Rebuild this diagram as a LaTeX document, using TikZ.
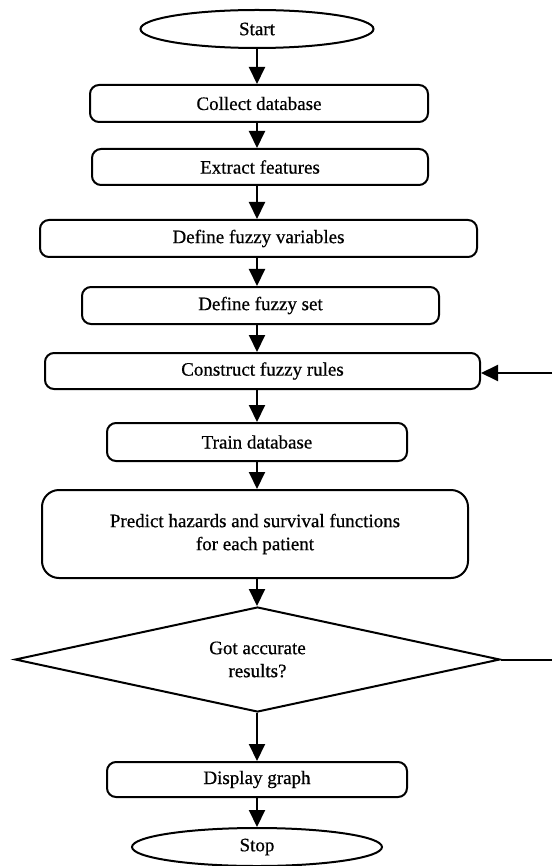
\documentclass[tikz,border=0pt]{standalone}
\usepackage{fontspec}
\setmainfont{Liberation Serif}
\newfontfamily\heavyserif[FakeBold=0.6]{Liberation Serif}
\usepackage{tikz}
\usetikzlibrary{shapes.geometric, arrows.meta, positioning}

\begin{document}
\begin{tikzpicture}[
  x=1pt, y=-1pt,
  every node/.style={font=\heavyserif\fontsize{19}{23}\selectfont},
  term/.style={ellipse, draw, line width=2pt, inner sep=0pt, minimum height=38pt},
  stepbox/.style={rectangle, draw, line width=2pt, rounded corners=9pt, inner sep=0pt,
                  minimum height=37pt, align=center},
  decide/.style={diamond, draw, line width=2pt, inner sep=0pt, shape aspect=4.6,
                 minimum width=485pt, minimum height=105pt, align=center},
  arr/.style={-{Triangle[length=17pt, width=16pt]}, line width=2pt},
]
  \useasboundingbox (0,0) rectangle (552,866);

  % Main flow
  \node[term, minimum width=233pt] (start) at (257,29) {Start};
  \node[stepbox, minimum width=338pt] (collect) at (259,103.5) {Collect database};
  \node[stepbox, minimum width=336pt, minimum height=36pt] (extract) at (260,167) {Extract features};
  \node[stepbox, minimum width=437pt] (fvars) at (258.5,238.5) {Define fuzzy variables};
  \node[stepbox, minimum width=357pt] (fset) at (260.5,305.5) {Define fuzzy set};
  \node[stepbox, minimum width=435pt, minimum height=36pt] (rules) at (262.5,371) {Construct fuzzy rules};
  \node[stepbox, minimum width=300pt, minimum height=38pt] (train) at (257,442) {Train database};
  \node[stepbox, minimum width=426pt, minimum height=88pt, rounded corners=17pt] (predict) at (255,534)
    {Predict hazards and survival functions\\for each patient};
  \node[decide] (check) at (257.5,659.5) {Got accurate\\results?};
  \node[stepbox, minimum width=300pt, minimum height=35pt] (display) at (257,779.5) {Display graph};
  \node[term, minimum width=250pt] (stop) at (257,847) {Stop};

  % Arrows down the middle
  \draw[arr] (start.south) -- (collect.north -| start.south);
  \draw[arr] (collect.south -| start.south) -- (extract.north -| start.south);
  \draw[arr] (extract.south -| start.south) -- (fvars.north -| start.south);
  \draw[arr] (fvars.south -| start.south) -- (fset.north -| start.south);
  \draw[arr] (fset.south -| start.south) -- (rules.north -| start.south);
  \draw[arr] (rules.south -| start.south) -- (train.north -| start.south);
  \draw[arr] (train.south -| start.south) -- (predict.north -| start.south);
  \draw[arr] (predict.south -| start.south) -- (check.north -| start.south);
  \draw[arr] (check.south -| start.south) -- (display.north -| start.south);
  \draw[arr] (display.south -| start.south) -- (stop.north);

  % Feedback loop (cut at the right edge)
  \coordinate (loopout) at (552,659.5);
  \coordinate (loopin) at (552,373);
  \draw[line width=2pt] (check.east) -- (loopout);
  \draw[arr] (loopin) -- (rules.east |- loopin);
\end{tikzpicture}
\end{document}
